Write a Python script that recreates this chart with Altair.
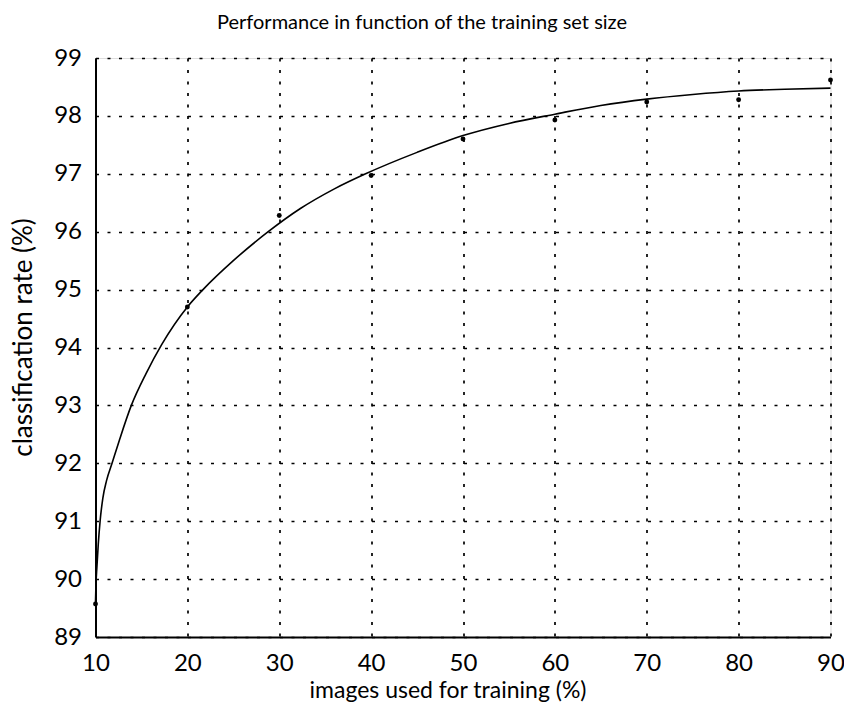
import altair as alt
import pandas as pd

# measured data points
train_pct = [10, 20, 30, 40, 50, 60, 70, 80, 90]
rate = [89.57, 94.70, 96.28, 96.97, 97.60, 97.93, 98.24, 98.28, 98.62]

# fitted curve
fit_x = [10, 10.05, 10.15, 10.3, 10.5, 10.8, 11.2, 11.8, 12.6, 13.9, 15.5, 17.2,
         20, 21.7, 25, 28.8, 32.3, 36, 39.4, 45, 50, 55, 60, 65, 70, 75, 80, 85, 90]
fit_y = [89.6, 89.9, 90.2, 90.6, 91.0, 91.4, 91.7, 92.0, 92.4, 93.0, 93.55, 94.05,
         94.7, 95.0, 95.5, 96.0, 96.4, 96.74, 97.0, 97.37, 97.66, 97.87, 98.03, 98.18,
         98.29, 98.37, 98.43, 98.46, 98.48]

x_ticks = [10, 20, 30, 40, 50, 60, 70, 80, 90]
y_ticks = [89, 90, 91, 92, 93, 94, 95, 96, 97, 98, 99]

points_df = pd.DataFrame({"x": train_pct, "y": rate})
fit_df = pd.DataFrame({"x": fit_x, "y": fit_y})

FONT = "Lato"

xscale = alt.Scale(domain=[10, 90], nice=False, zero=False)
yscale = alt.Scale(domain=[89, 99], nice=False, zero=False)

common = dict(
    grid=True, gridDash=[3, 8.5], gridColor="black", gridWidth=1.7, gridOpacity=1,
    domainColor="black", domainWidth=2, ticks=False, labelFlush=False,
    labelFont=FONT, labelFontSize=24, labelColor="black",
    titleFont=FONT, titleFontWeight="normal", titleColor="black",
)

xaxis = alt.Axis(values=x_ticks, title="images used for training (%)",
                 labelBaseline="alphabetic", labelPadding=33, titleFontSize=23,
                 titleBaseline="alphabetic", titleX=352, titleY=60, **common)
yaxis = alt.Axis(values=y_ticks, title="classification rate (%)",
                 labelPadding=14, titleFontSize=26, titleBaseline="alphabetic",
                 titleX=-64, titleY=279, titleAngle=-90, **common)

line = alt.Chart(fit_df).mark_line(color="black", strokeWidth=1.6,
                                   interpolate="monotone").encode(
    x=alt.X("x:Q", scale=xscale, axis=xaxis),
    y=alt.Y("y:Q", scale=yscale, axis=yaxis),
)
pts = alt.Chart(points_df).mark_circle(color="black", size=24, opacity=1).encode(
    x=alt.X("x:Q", scale=xscale, axis=xaxis),
    y=alt.Y("y:Q", scale=yscale, axis=yaxis),
)

chart = alt.layer(line, pts).properties(
    width=735, height=579,
    title=alt.TitleParams("Performance in function of the training set size",
                          font=FONT, fontSize=20, fontWeight="normal", color="black",
                          anchor="middle", frame="group", dx=-41, baseline="alphabetic",
                          offset=-3),
    autosize=alt.AutoSizeParams(type="none"),
    padding={"left": 95.5, "top": 58, "right": 13.5, "bottom": 78},
).configure_view(stroke=None).configure(background="white")

chart.save("out.html", embed_options={"renderer": "svg", "actions": False})
